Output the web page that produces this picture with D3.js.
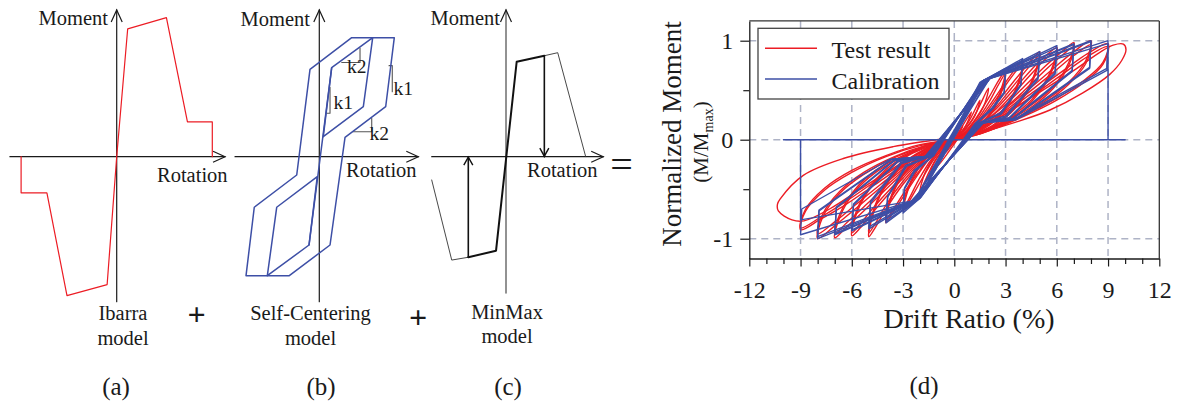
<!DOCTYPE html>
<html><head><meta charset="utf-8">
<script src="https://cdn.jsdelivr.net/npm/d3@7"></script>
<style>
body{margin:0;background:#fff}
svg{display:block}
text{font-family:"Liberation Serif","Times New Roman",serif;fill:#1a1a1a}
</style>
</head><body><svg id="c" width="1189" height="404"></svg>
<script>
// ===== DATA =====
// (a) Ibarra model backbone (normalized rotation, moment)
const ibarraRot = [-1, -1, -0.73, -0.52, -0.1, 0, 0.115, 0.52, 0.74, 1, 1];
const ibarraMom = [0, -0.26, -0.26, -1.0, -0.92, 0, 0.92, 1.0, 0.25, 0.25, 0];
// (b) Self-centering model loops
const scOuter = [[-0.977,-1],[-0.867,-0.425],[-0.301,-0.154],[-0.124,0.734],[0.432,1],[1,1],[0.885,0.42],[0.343,0.163],[0.143,-0.742],[-0.4,-1]];
const scCentral = [[-0.137,-0.742],[0.165,0.748]];
const scInnerUp = [[0.165,0.748],[0.712,1],[0.587,0.42],[0.053,0.168]];
const scInnerLow = [[-0.027,-0.168],[-0.568,-0.425],[-0.693,-1],[-0.137,-0.742]];
const scSlopeMarks = [
  [[0.299,0.792],[0.543,0.792],[0.543,0.913]],
  [[0.099,0.365],[0.143,0.365],[0.143,0.583]],
  [[0.93,0.765],[0.973,0.765],[0.973,0.546]],
  [[0.453,0.21],[0.699,0.21],[0.699,0.323]]
];
const scSlopeLabels = [["k2",0.37,0.70],["k1",0.19,0.40],["k1",0.99,0.52],["k2",0.67,0.14]];
// (c) MinMax model
const mmThinLeft = [[-0.932,-0.224],[-0.681,-0.994],[-0.473,-0.967]];
const mmThick = [[-0.473,-0.967],[-0.125,-0.904],[0.134,0.913],[0.481,0.971]];
const mmThinRight = [[0.481,0.971],[0.649,1.0],[1.0,0]];
const mmArrowX = [-0.473, 0.481];
const mmArrowFrom = [-0.967, 0.971];

// (d) tick labels
const driftLabels = [-12,-9,-6,-3,0,3,6,9,12];
const momentLabels = [-1,0,1];
const seriesNames = ["Test result","Calibration"];

// (d) Test result cycles [drift %, M/Mmax]
const testCycles = [
 [[0,0],[0.5,0.14],[0.25,0.05],[-0.5,-0.13],[-0.25,-0.04],[0,0]],
 [[0,0],[1,0.28],[0.6,0.12],[-1,-0.27],[-0.6,-0.11],[0,0]],
 [[0,0],[0.8,0.17],[1.5,0.4],[1.2,0.24],[0.4,0.05],[-0.8,-0.16],[-1.5,-0.4],[-1.2,-0.24],[-0.4,-0.05],[0,0]],
 [[0,0],[1,0.19],[2,0.52],[1.7,0.33],[0.7,0.08],[-1,-0.18],[-2,-0.52],[-1.7,-0.33],[-0.7,-0.08],[0,0]],
 [[-0.3,-0.03],[0.5,0.06],[1.2,0.2],[2,0.42],[2.6,0.6],[3,0.7],[2.9,0.6],[2.5,0.4],[1.8,0.2],[1,0.08],[0.2,0.01],[-0.5,-0.06],[-1.2,-0.2],[-2,-0.43],[-2.6,-0.61],[-3,-0.72],[-2.9,-0.62],[-2.5,-0.42],[-1.8,-0.22],[-1,-0.09],[-0.3,-0.02]],
 [[-0.3,-0.02],[0.5,0.05],[1.3,0.19],[2.1,0.4],[2.6,0.56],[3,0.67],[2.9,0.56],[2.5,0.37],[1.8,0.18],[1,0.07],[0.2,0.01],[-0.5,-0.05],[-1.3,-0.19],[-2.1,-0.41],[-2.6,-0.58],[-3,-0.7],[-2.9,-0.59],[-2.5,-0.4],[-1.8,-0.2],[-1,-0.08],[-0.3,-0.02]],
 [[-0.3,-0.02],[0.5,0.05],[1.3,0.17],[2.2,0.38],[3,0.58],[3.6,0.72],[4,0.8],[3.85,0.64],[3.3,0.41],[2.5,0.23],[1.5,0.1],[0.5,0.02],[-0.3,-0.02],[-1.3,-0.16],[-2.2,-0.37],[-3,-0.58],[-3.6,-0.74],[-4,-0.84],[-3.85,-0.68],[-3.3,-0.44],[-2.5,-0.25],[-1.5,-0.1],[-0.5,-0.02],[0.2,0.01]],
 [[0.2,0.01],[1.3,0.15],[2.2,0.35],[3,0.55],[3.6,0.69],[4,0.77],[3.85,0.61],[3.3,0.39],[2.5,0.21],[1.5,0.09],[0.5,0.02],[-0.3,-0.02],[-1.3,-0.15],[-2.2,-0.35],[-3,-0.55],[-3.6,-0.71],[-4,-0.81],[-3.85,-0.65],[-3.3,-0.42],[-2.5,-0.24],[-1.5,-0.1],[-0.5,-0.02],[0.2,0.01]],
 [[0.2,0.01],[1.3,0.15],[2.3,0.33],[3.3,0.55],[4.2,0.74],[4.7,0.84],[5,0.89],[4.8,0.72],[4.2,0.48],[3.3,0.29],[2.2,0.14],[1,0.05],[0,0],[-1,-0.09],[-2,-0.25],[-3,-0.45],[-4,-0.7],[-4.6,-0.88],[-5,-0.98],[-4.8,-0.78],[-4.2,-0.52],[-3.3,-0.31],[-2.2,-0.15],[-1,-0.05],[0,0]],
 [[0,0],[1.3,0.13],[2.3,0.3],[3.3,0.51],[4.2,0.7],[4.7,0.8],[5,0.86],[4.8,0.69],[4.2,0.46],[3.3,0.27],[2.2,0.13],[1,0.04],[0,0],[-1,-0.08],[-2,-0.23],[-3,-0.42],[-4,-0.66],[-4.6,-0.84],[-5,-0.94],[-4.8,-0.75],[-4.2,-0.5],[-3.3,-0.29],[-2.2,-0.14],[-1,-0.04],[0,0]],
 [[0,0],[1.3,0.13],[2.5,0.32],[3.7,0.55],[4.8,0.76],[5.5,0.87],[6,0.93],[5.75,0.74],[5,0.5],[4,0.32],[2.7,0.17],[1.3,0.06],[0,0],[-1.2,-0.1],[-2.4,-0.28],[-3.6,-0.5],[-4.8,-0.74],[-5.5,-0.89],[-6,-0.97],[-5.75,-0.76],[-5,-0.51],[-4,-0.32],[-2.7,-0.16],[-1.3,-0.06],[0,0]],
 [[0,0],[1.3,0.12],[2.5,0.29],[3.7,0.51],[4.8,0.72],[5.5,0.84],[6,0.9],[5.75,0.71],[5,0.48],[4,0.3],[2.7,0.16],[1.3,0.05],[0,0],[-1.2,-0.09],[-2.4,-0.26],[-3.6,-0.47],[-4.8,-0.7],[-5.5,-0.85],[-6,-0.94],[-5.75,-0.73],[-5,-0.49],[-4,-0.3],[-2.7,-0.15],[-1.3,-0.05],[0,0]],
 [[0,0],[1.3,0.12],[2.7,0.31],[4,0.52],[5.3,0.74],[6.3,0.89],[7,0.98],[6.7,0.78],[5.8,0.54],[4.6,0.36],[3,0.19],[1.5,0.07],[0,0],[-1.3,-0.1],[-2.7,-0.29],[-4,-0.5],[-5.3,-0.72],[-6.3,-0.88],[-7,-0.99],[-6.7,-0.78],[-5.8,-0.52],[-4.6,-0.33],[-3,-0.17],[-1.5,-0.06],[0,0]],
 [[0,0],[1.3,0.11],[2.7,0.28],[4,0.48],[5.3,0.7],[6.3,0.85],[7,0.94],[6.7,0.75],[5.8,0.52],[4.6,0.34],[3,0.18],[1.5,0.06],[0,0],[-1.3,-0.09],[-2.7,-0.27],[-4,-0.47],[-5.3,-0.68],[-6.3,-0.84],[-7,-0.95],[-6.7,-0.75],[-5.8,-0.5],[-4.6,-0.31],[-3,-0.16],[-1.5,-0.05],[0,0]],
 [[0,0],[1.3,0.11],[2.8,0.29],[4.3,0.5],[5.8,0.72],[7,0.89],[8,1.0],[7.7,0.8],[6.7,0.58],[5.3,0.39],[3.5,0.21],[1.7,0.08],[0,0],[-1.3,-0.09],[-2.8,-0.27],[-4.3,-0.48],[-5.8,-0.7],[-7,-0.87],[-8,-1.0],[-7.7,-0.78],[-6.7,-0.54],[-5.3,-0.35],[-3.5,-0.18],[-1.7,-0.07],[0,0]],
 [[0,0],[1.3,0.1],[2.8,0.27],[4.3,0.47],[5.8,0.68],[7,0.85],[8,0.96],[7.7,0.77],[6.7,0.56],[5.3,0.37],[3.5,0.2],[1.7,0.07],[0,0],[-1.3,-0.08],[-2.8,-0.25],[-4.3,-0.45],[-5.8,-0.66],[-7,-0.83],[-8,-0.95],[-7.7,-0.75],[-6.7,-0.52],[-5.3,-0.33],[-3.5,-0.17],[-1.7,-0.06],[0,0]],
 [[0,0],[1.3,0.1],[3,0.28],[4.7,0.49],[6.4,0.7],[7.8,0.87],[9,0.97],[8.7,0.78],[7.6,0.6],[6,0.42],[4,0.24],[2,0.1],[0,0],[-1.3,-0.08],[-3,-0.26],[-4.7,-0.46],[-6.4,-0.66],[-7.8,-0.8],[-9,-0.91],[-8.7,-0.72],[-7.6,-0.51],[-6,-0.33],[-4,-0.17],[-2,-0.06],[0,0]],
 [[0,0],[1.3,0.09],[3,0.26],[4.7,0.46],[6.4,0.67],[7.8,0.84],[9,0.94],[8.7,0.76],[7.6,0.58],[6,0.4],[4,0.23],[2,0.09],[0,0],[-1.3,-0.07],[-3,-0.24],[-4.7,-0.43],[-6.4,-0.63],[-7.8,-0.78],[-9,-0.89],[-8.7,-0.7],[-7.6,-0.49],[-6,-0.31],[-4,-0.16],[-2,-0.05],[0,0]],
 [[0,0],[1.3,0.09],[3,0.26],[5,0.48],[7,0.7],[8.5,0.88],[9.3,0.955],[9.9,0.965],[10.05,0.91],[9.8,0.8],[9.1,0.66],[7.5,0.47],[5.6,0.3],[3.65,0.18],[1.7,0.08],[-0.25,0],[-1.5,-0.08],[-3.5,-0.28],[-5.5,-0.5],[-7.3,-0.7],[-8.8,-0.82],[-9.5,-0.81],[-10.3,-0.72],[-10.35,-0.65],[-10.2,-0.6],[-8.84,-0.36],[-6.5,-0.19],[-3.57,-0.07],[-0.64,0.01]]
];

// (d) Calibration cycles [drift %, M/Mmax]
const calibCycles = [
 [[-0.15,0],[0.4,0.17],[-0.4,-0.08],[-0.15,0]],
 [[-0.1,0.01],[0.5,0.2],[-0.55,-0.12],[-0.1,0.01]],
 [[-0.2,-0.01],[0.75,0.28],[-0.75,-0.19],[-0.2,-0.01]],
 [[-0.15,0],[1,0.36],[-1,-0.26],[-0.15,0]],
 [[-0.3,-0.02],[1.1,0.37],[-1.1,-0.3],[-0.3,-0.02]],
 [[-0.15,0],[1.5,0.5],[-1.5,-0.42],[-0.15,0]],
 [[0.05,0.04],[1.4,0.5],[-1.7,-0.44],[0.05,0.04]],
 [[-0.15,0],[2,0.6],[1.6,0.5],[-2,-0.57],[-1.7,-0.47],[-0.15,0]],
 [[-0.4,-0.02],[1.7,0.6],[1.2,0.45],[-2.3,-0.6],[-1.9,-0.5],[-0.4,-0.02]],
 [[-0.4,-0.05],[1.5,0.58],[3,0.72],[2.92,0.48],[2.2,0.32],[1.2,0.16],[-1.95,-0.58],[-3,-0.74],[-2.92,-0.5],[-2.3,-0.32],[-1.2,-0.16]],
 [[-1.2,-0.16],[1.6,0.59],[3,0.7],[2.92,0.47],[2.25,0.31],[1.25,0.16],[-2.0,-0.59],[-3,-0.72],[-2.92,-0.49],[-2.35,-0.31],[-1.25,-0.16]],
 [[-1.25,-0.16],[1.65,0.59],[4,0.82],[3.9,0.56],[2.7,0.27],[1.3,0.16],[-2.05,-0.59],[-4,-0.84],[-3.9,-0.58],[-2.8,-0.27],[-1.3,-0.16]],
 [[-1.3,-0.16],[1.7,0.6],[4,0.8],[3.9,0.55],[2.75,0.26],[1.35,0.16],[-2.1,-0.6],[-4,-0.82],[-3.9,-0.57],[-2.85,-0.26],[-1.35,-0.16]],
 [[-1.35,-0.16],[1.75,0.6],[5,0.89],[4.9,0.63],[3.0,0.24],[1.4,0.16],[-2.15,-0.6],[-5,-0.9],[-4.9,-0.64],[-3.1,-0.24],[-1.4,-0.16]],
 [[-1.4,-0.16],[1.8,0.6],[5,0.87],[4.9,0.61],[3.05,0.23],[1.45,0.16],[-2.2,-0.6],[-5,-0.88],[-4.9,-0.62],[-3.15,-0.23],[-1.45,-0.16]],
 [[-1.45,-0.16],[1.85,0.61],[6,0.95],[5.9,0.68],[3.2,0.22],[1.5,0.17],[-2.25,-0.61],[-6,-0.92],[-5.9,-0.66],[-3.3,-0.22],[-1.5,-0.17]],
 [[-1.5,-0.17],[1.9,0.61],[6,0.93],[5.9,0.66],[3.25,0.22],[1.55,0.17],[-2.3,-0.61],[-6,-0.91],[-5.9,-0.65],[-3.35,-0.22],[-1.55,-0.17]],
 [[-1.55,-0.17],[1.95,0.61],[7,0.97],[6.9,0.7],[3.4,0.21],[1.6,0.17],[-2.35,-0.61],[-7,-0.96],[-6.9,-0.69],[-3.5,-0.21],[-1.6,-0.17]],
 [[-1.6,-0.17],[2.0,0.62],[7,0.96],[6.9,0.69],[3.45,0.21],[1.6,0.17],[-2.4,-0.62],[-7,-0.95],[-6.9,-0.68],[-3.55,-0.21],[-1.6,-0.17]],
 [[-1.6,-0.17],[2.05,0.62],[8,1.0],[7.92,0.73],[3.55,0.2],[1.65,0.17],[-2.45,-0.62],[-8,-1.0],[-7.92,-0.72],[-3.65,-0.2],[-1.65,-0.17]],
 [[-1.65,-0.17],[2.1,0.62],[8,0.99],[7.92,0.72],[3.6,0.2],[1.7,0.17],[-2.5,-0.62],[-8,-0.98],[-7.92,-0.71],[-3.7,-0.2],[-1.7,-0.17]],
 [[-1.7,-0.17],[2.1,0.62],[9,1.0],[8.93,0.72],[3.66,0.22],[1.7,0.17],[-2.5,-0.62],[-9,-0.96],[-8.93,-0.7],[-3.8,-0.2],[-1.7,-0.17]],
 [[-1.7,-0.17],[2.1,0.62],[9,0.97],[8.93,0.7],[3.7,0.21],[1.7,0.17],[-2.5,-0.62],[-9,-0.81],[-9,0],[-10,0],[10,0],[9,0],[9,0.97]]
];

// ===== DRAW =====
const svg = d3.select("#c");
const INK = "#1a1a1a";
const RED = "#ec1c24", BLUE = "#3d4fa6";

function poly(g, pts, sx, sy, stroke, w, closed, curve) {
  const ln = d3.line().x(d => sx(d[0])).y(d => sy(d[1])).curve(curve || d3.curveLinear);
  g.append("path").attr("d", ln(pts) + (closed ? "Z" : ""))
    .attr("fill", "none").attr("stroke", stroke).attr("stroke-width", w)
    .attr("stroke-linejoin", "round").attr("stroke-linecap", "round");
}
function arrowUp(g, x, y, hw, len, col, w) {
  g.append("path").attr("d", `M${x-hw},${y+len}L${x},${y}L${x+hw},${y+len}`)
   .attr("fill","none").attr("stroke",col).attr("stroke-width",w);
}
function arrowDown(g, x, y, hw, len, col, w) {
  g.append("path").attr("d", `M${x-hw},${y-len}L${x},${y}L${x+hw},${y-len}`)
   .attr("fill","none").attr("stroke",col).attr("stroke-width",w);
}
function arrowRight(g, x, y, hw, len, col, w) {
  g.append("path").attr("d", `M${x-len},${y-hw}L${x},${y}L${x-len},${y+hw}`)
   .attr("fill","none").attr("stroke",col).attr("stroke-width",w);
}
function label(txt, x, y, size, anchor, extra) {
  const t = svg.append("text").attr("x", x).attr("y", y).attr("font-size", size)
    .attr("text-anchor", anchor || "start").text(txt);
  if (extra) extra(t);
  return t;
}

// ---------- (a) Ibarra ----------
{
  const g = svg.append("g");
  const sx = d3.scaleLinear([-1, 1], [21.1, 212.3]);
  const sy = d3.scaleLinear([-1, 1], [295.7, 17.7]);
  poly(g, [[0, 1.056], [0, -1.043]], sx, sy, INK, 1.2);
  poly(g, [[-1.117, 0], [1.133, 0]], sx, sy, INK, 1.2);
  arrowUp(g, sx(0), sy(1.056), 5.5, 12, INK, 1.2);
  arrowRight(g, sx(1.133), sy(0), 5.5, 12, INK, 1.2);
  poly(g, ibarraRot.map((r, i) => [r, ibarraMom[i]]), sx, sy, RED, 1.2);
  label("Moment", 108, 25, 20.5, "end");
  label("Rotation", 157, 181.5, 20.5, "start");
  label("Ibarra", 123, 320, 20.5, "middle");
  label("model", 123, 345, 20.5, "middle");
  label("(a)", 116, 395, 25, "middle");
}
// ---------- (b) Self-centering ----------
{
  const g = svg.append("g");
  const sx = d3.scaleLinear([-1, 1], [244.3, 394.3]);
  const sy = d3.scaleLinear([-1, 1], [275.7, 37.7]);
  poly(g, [[0, 1.233], [0, -1.218]], sx, sy, INK, 1.2);
  poly(g, [[-1.124, 0], [1.32, 0]], sx, sy, INK, 1.2);
  arrowUp(g, sx(0), sy(1.233), 5.5, 12, INK, 1.2);
  arrowRight(g, sx(1.32), sy(0), 5.5, 12, INK, 1.2);
  scSlopeMarks.forEach(m => poly(g, m, sx, sy, "#555", 1.1));
  poly(g, scOuter, sx, sy, BLUE, 1.5, true);
  poly(g, scCentral, sx, sy, BLUE, 1.5);
  poly(g, scInnerUp, sx, sy, BLUE, 1.5, true);
  poly(g, scInnerLow, sx, sy, BLUE, 1.5, true);
  scSlopeLabels.forEach(l => label(l[0], sx(l[1]), sy(l[2]), 19.5, "start"));
  label("Moment", 310, 26, 20.5, "end");
  label("Rotation", 346, 177, 20.5, "start");
  label("Self-Centering", 310.5, 320, 20.5, "middle");
  label("model", 310.5, 345, 20.5, "middle");
  label("(b)", 321, 395, 25, "middle");
}
// ---------- (c) MinMax ----------
{
  const g = svg.append("g");
  const sx = d3.scaleLinear([-1, 1], [426.3, 585.7]);
  const sy = d3.scaleLinear([-1, 1], [260.7, 52.7]);
  poly(g, [[0, 1.41], [0, -1.31]], sx, sy, "#777", 1.6);
  poly(g, [[-0.932, 0], [1.22, 0]], sx, sy, INK, 1.2);
  arrowUp(g, sx(0), sy(1.41), 5.5, 12, INK, 1.2);
  arrowRight(g, sx(1.22), sy(0), 5.5, 12, INK, 1.2);
  poly(g, mmThinLeft, sx, sy, "#333", 0.9);
  poly(g, mmThinRight, sx, sy, "#333", 0.9);
  poly(g, mmThick, sx, sy, "#111", 2);
  mmArrowX.forEach((ax, i) => {
    poly(g, [[ax, mmArrowFrom[i]], [ax, 0]], sx, sy, "#111", 1.6);
    if (mmArrowFrom[i] > 0) arrowDown(g, sx(ax), sy(0) - 0.5, 4.5, 8, "#111", 1.4);
    else arrowUp(g, sx(ax), sy(0) + 0.5, 4.5, 8, "#111", 1.4);
  });
  label("Moment", 500, 25, 20.5, "end");
  label("Rotation", 527, 177, 20.5, "start");
  label("MinMax", 507, 319, 20.5, "middle");
  label("model", 507, 343, 20.5, "middle");
  label("(c)", 508, 395, 25, "middle");
}
// plus / equal signs
label("+", 196.7, 325, 32, "middle", t => t.attr("font-family", "Liberation Sans, Arial, sans-serif").attr("font-weight", "bold"));
label("+", 418, 328, 32, "middle", t => t.attr("font-family", "Liberation Sans, Arial, sans-serif").attr("font-weight", "bold"));
label("=", 621.5, 178, 40, "middle", t => t.attr("font-family", "Lato, sans-serif"));

// ---------- (d) Hysteresis ----------
{
  const x = d3.scaleLinear([-12, 12], [749.3, 1159.3]);
  const y = d3.scaleLinear([-1.2, 1.2], [258.5, 20.9]);
  const g = svg.append("g");
  const grid = g.append("g").attr("stroke", "#aeb3c6").attr("stroke-width", 1.5).attr("stroke-dasharray", "7,5");
  driftLabels.filter(v => v > -12 && v < 12).forEach(v =>
    grid.append("line").attr("x1", x(v)).attr("x2", x(v)).attr("y1", y(1.2)).attr("y2", y(-1.2)));
  momentLabels.forEach(v =>
    grid.append("line").attr("x1", x(-12)).attr("x2", x(12)).attr("y1", y(v)).attr("y2", y(v)));

  const curveRed = d3.curveCatmullRom.alpha(0.5);
  testCycles.forEach(c => poly(g, c, x, y, RED, 1.4, false, curveRed));
  calibCycles.forEach(c => poly(g, c, x, y, BLUE, 1.4));

  // frame
  g.append("line").attr("x1", x(-12)).attr("x2", x(12)).attr("y1", y(1.2)).attr("y2", y(1.2)).attr("stroke", "#333").attr("stroke-width", 1.3);
  g.append("line").attr("x1", x(12)).attr("x2", x(12)).attr("y1", y(1.2)).attr("y2", y(-1.2)).attr("stroke", "#333").attr("stroke-width", 1.3);

  const xa = g.append("g").attr("transform", `translate(0,${y(-1.2)})`)
    .call(d3.axisBottom(x).tickValues(d3.range(-12, 13, 1)).tickSizeOuter(0)
      .tickFormat(d => driftLabels.includes(d) ? String(d) : ""));
  xa.select(".domain").attr("stroke", INK).attr("stroke-width", 1.3);
  xa.selectAll(".tick line").attr("stroke", INK).attr("stroke-width", 1.2)
    .attr("y2", d => driftLabels.includes(d) ? 8 : 5.5);
  xa.selectAll(".tick text").attr("font-family", "Liberation Serif, Times New Roman, serif")
    .attr("font-size", 24).attr("fill", INK).attr("y", 39.5).attr("dy", 0);

  const ya = g.append("g").attr("transform", `translate(${x(-12)},0)`)
    .call(d3.axisLeft(y).tickValues([-1, -0.5, 0, 0.5, 1]).tickSizeOuter(0)
      .tickFormat(d => momentLabels.includes(d) ? String(d) : ""));
  ya.select(".domain").attr("stroke", INK).attr("stroke-width", 1.3);
  ya.selectAll(".tick line").attr("stroke", INK).attr("stroke-width", 1.2)
    .attr("x2", d => momentLabels.includes(d) ? -9 : -6);
  ya.selectAll(".tick text").attr("font-family", "Liberation Serif, Times New Roman, serif")
    .attr("font-size", 24).attr("fill", INK).attr("x", -16).attr("dy", "0.33em");

  // legend
  const lg = g.append("g");
  lg.append("rect").attr("x", 758).attr("y", 28.3).attr("width", 191).attr("height", 70.7)
    .attr("fill", "#fff").attr("stroke", "#444").attr("stroke-width", 1.3);
  [RED, BLUE].forEach((col, i) => {
    const yy = 48.3 + i * 30.7;
    lg.append("line").attr("x1", 765).attr("x2", 817).attr("y1", yy).attr("y2", yy)
      .attr("stroke", col).attr("stroke-width", 1.5);
    lg.append("text").attr("x", 831.5).attr("y", yy + 9.5).attr("font-size", 24).text(seriesNames[i]);
  });

  // axis titles
  label("Drift Ratio (%)", 969, 328, 28, "middle");
  svg.append("text").attr("transform", "translate(681,134) rotate(-90)")
    .attr("text-anchor", "middle").attr("font-size", 27).text("Normalized Moment");
  const t2 = svg.append("text").attr("transform", "translate(708,142) rotate(-90)")
    .attr("text-anchor", "middle").attr("font-size", 21);
  t2.append("tspan").text("(M/M");
  t2.append("tspan").attr("font-size", 14).attr("dy", 5).text("max");
  t2.append("tspan").attr("dy", -5).text(")");
  label("(d)", 924, 394, 25, "middle");
}
</script>
</body></html>
